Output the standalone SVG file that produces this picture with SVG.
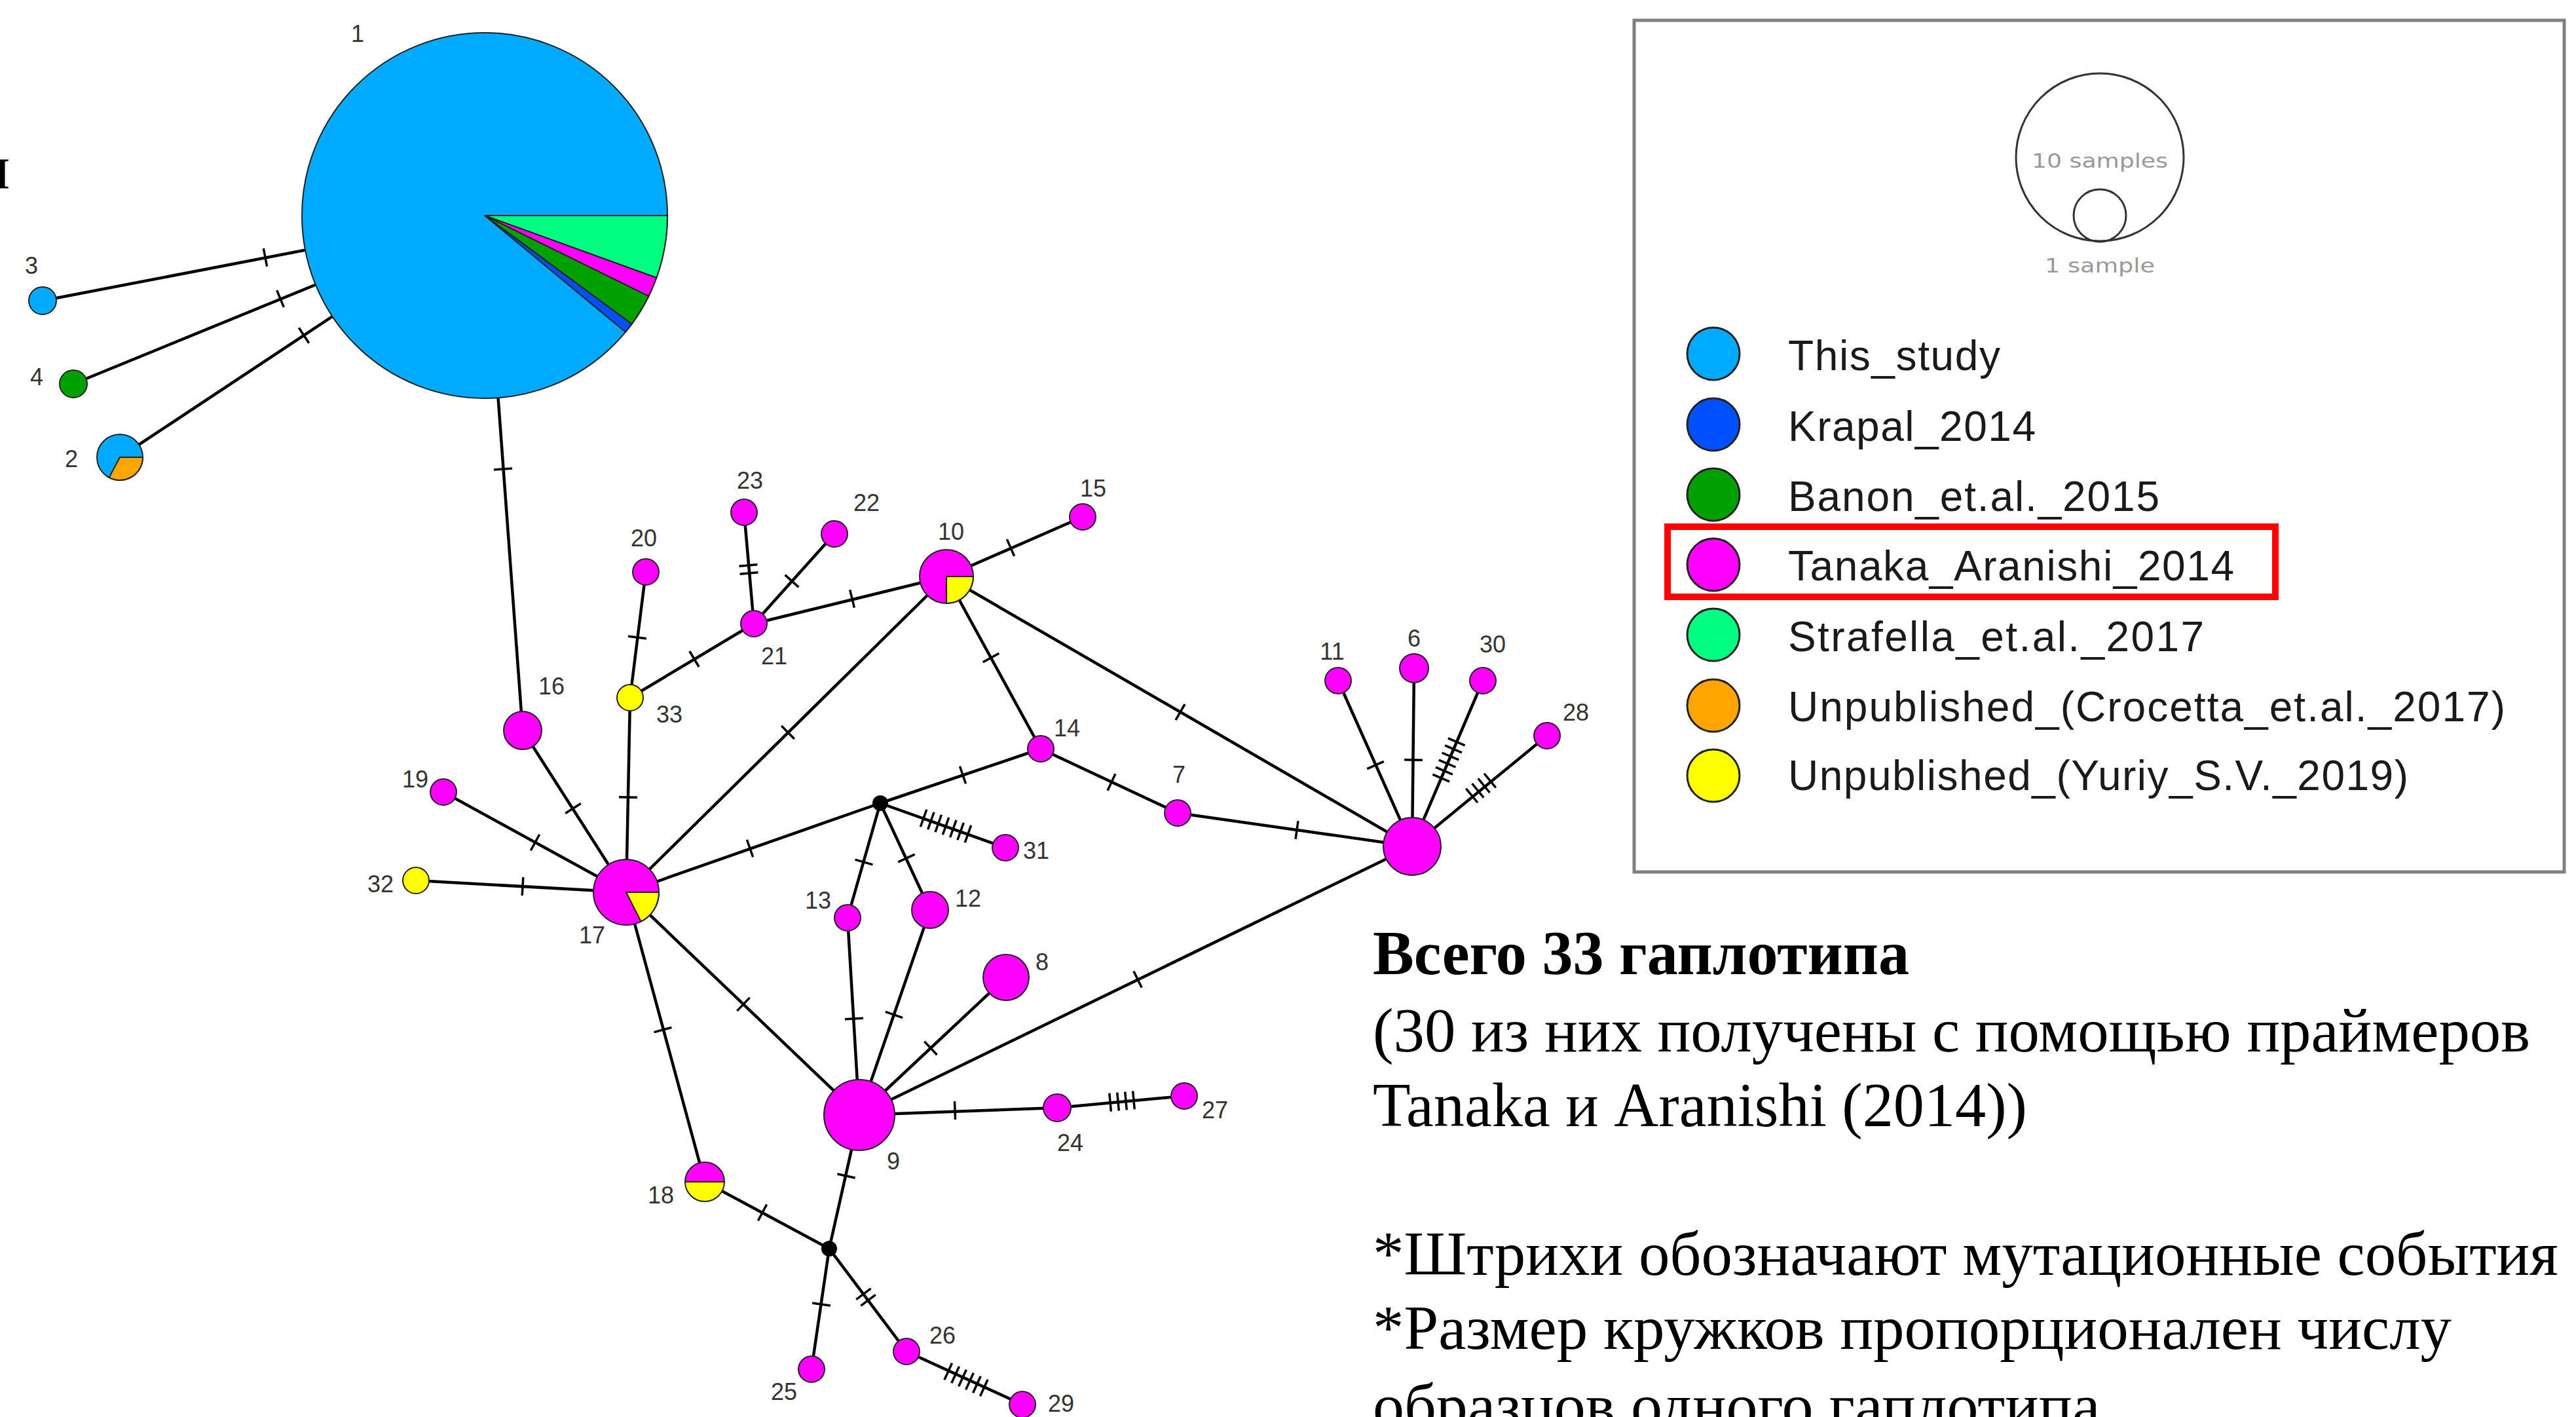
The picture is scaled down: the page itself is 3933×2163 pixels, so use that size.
<svg xmlns="http://www.w3.org/2000/svg" xmlns:xlink="http://www.w3.org/1999/xlink" width="3933" height="2163" viewBox="0 0 3933 2163">
<style>
.e{stroke:#000;stroke-width:4.5;fill:none}
.tk line{stroke:#000;stroke-width:3.5}
.n{stroke:#222;stroke-width:2}
.m{fill:#FF00FF}
.y{fill:#FFFF00}
.lb{font-family:"Liberation Sans",Arial,sans-serif;font-size:36px;fill:#333;text-anchor:middle}
.lg{font-family:"Liberation Sans",Arial,sans-serif;font-size:64px;fill:#1a1a1a}
.lc{stroke:#222;stroke-width:3}
.tx{font-family:"Liberation Serif","Times New Roman",serif;font-size:96px;fill:#000}
</style>
<defs>
<g id="t1" class="tk"><line x1="0" y1="-14" x2="0" y2="14"/></g>
<g id="t2" class="tk"><line x1="-6" y1="-14" x2="-6" y2="14"/><line x1="6" y1="-14" x2="6" y2="14"/></g>
<g id="t4" class="tk"><line x1="-18" y1="-14" x2="-18" y2="14"/><line x1="-6" y1="-14" x2="-6" y2="14"/><line x1="6" y1="-14" x2="6" y2="14"/><line x1="18" y1="-14" x2="18" y2="14"/></g>
<g id="t6" class="tk"><line x1="-30" y1="-14" x2="-30" y2="14"/><line x1="-18" y1="-14" x2="-18" y2="14"/><line x1="-6" y1="-14" x2="-6" y2="14"/><line x1="6" y1="-14" x2="6" y2="14"/><line x1="18" y1="-14" x2="18" y2="14"/><line x1="30" y1="-14" x2="30" y2="14"/></g>
<g id="t7" class="tk"><line x1="-36" y1="-14" x2="-36" y2="14"/><line x1="-24" y1="-14" x2="-24" y2="14"/><line x1="-12" y1="-14" x2="-12" y2="14"/><line x1="0" y1="-14" x2="0" y2="14"/><line x1="12" y1="-14" x2="12" y2="14"/><line x1="24" y1="-14" x2="24" y2="14"/><line x1="36" y1="-14" x2="36" y2="14"/></g>
</defs>
<rect width="3933" height="2163" fill="#fff"/>

<text class="tx" x="15" y="287" font-size="110" text-anchor="end">н</text>

<g id="connectors">
<line class="e" x1="740" y1="329" x2="65" y2="459"/><use href="#t1" transform="translate(405,393) rotate(-10.9)"/>
<line class="e" x1="740" y1="329" x2="112" y2="586"/><use href="#t1" transform="translate(428,456) rotate(-22.25)"/>
<line class="e" x1="740" y1="329" x2="183" y2="698"/><use href="#t1" transform="translate(464,512) rotate(-33.5)"/>
<line class="e" x1="740" y1="329" x2="798" y2="1115"/><use href="#t1" transform="translate(768,716) rotate(85.8)"/>
<line class="e" x1="798" y1="1115" x2="956" y2="1362"/><use href="#t1" transform="translate(875,1234) rotate(57.4)"/>
<line class="e" x1="677" y1="1209" x2="956" y2="1362"/><use href="#t1" transform="translate(817,1286) rotate(28.7)"/>
<line class="e" x1="635" y1="1344" x2="956" y2="1362"/><use href="#t1" transform="translate(798,1353) rotate(3.2)"/>
<line class="e" x1="962" y1="1065" x2="956" y2="1362"/><use href="#t1" transform="translate(959,1217) rotate(91.2)"/>
<line class="e" x1="986" y1="873" x2="962" y2="1065"/><use href="#t1" transform="translate(973,973) rotate(97.1)"/>
<line class="e" x1="962" y1="1065" x2="1151" y2="952"/><use href="#t1" transform="translate(1060,1006) rotate(-30.9)"/>
<line class="e" x1="1151" y1="952" x2="1136" y2="782"/><use href="#t2" transform="translate(1143,869) rotate(84.96)"/>
<line class="e" x1="1151" y1="952" x2="1274" y2="815"/><use href="#t1" transform="translate(1209,887) rotate(-48.1)"/>
<line class="e" x1="1151" y1="952" x2="1445" y2="880"/><use href="#t1" transform="translate(1301,914) rotate(-13.8)"/>
<line class="e" x1="1445" y1="880" x2="1653" y2="789"/><use href="#t1" transform="translate(1543,836) rotate(-23.6)"/>
<line class="e" x1="1445" y1="880" x2="956" y2="1362"/><use href="#t1" transform="translate(1203,1118) rotate(-44.6)"/>
<line class="e" x1="1445" y1="880" x2="1589" y2="1143"/><use href="#t1" transform="translate(1513,1004) rotate(61.3)"/>
<line class="e" x1="1445" y1="880" x2="2156" y2="1292"/><use href="#t1" transform="translate(1802,1087) rotate(30.1)"/>
<line class="e" x1="1589" y1="1143" x2="1344" y2="1226"/><use href="#t1" transform="translate(1470,1183) rotate(-18.7)"/>
<line class="e" x1="1589" y1="1143" x2="1798" y2="1241"/><use href="#t1" transform="translate(1697,1194) rotate(25.1)"/>
<line class="e" x1="1798" y1="1241" x2="2156" y2="1292"/><use href="#t1" transform="translate(1980,1267) rotate(8.1)"/>
<line class="e" x1="1344" y1="1226" x2="956" y2="1362"/><use href="#t1" transform="translate(1145,1295) rotate(-19.3)"/>
<line class="e" x1="1344" y1="1226" x2="1535" y2="1294"/><use href="#t7" transform="translate(1444,1261) rotate(19.6)"/>
<line class="e" x1="1344" y1="1226" x2="1294" y2="1401"/><use href="#t1" transform="translate(1319,1316) rotate(-74.05)"/>
<line class="e" x1="1344" y1="1226" x2="1420" y2="1389"/><use href="#t1" transform="translate(1384,1310) rotate(65)"/>
<line class="e" x1="1294" y1="1401" x2="1312" y2="1702"/><use href="#t1" transform="translate(1304,1555) rotate(86.6)"/>
<line class="e" x1="1420" y1="1389" x2="1312" y2="1702"/><use href="#t1" transform="translate(1365,1549) rotate(-70.96)"/>
<line class="e" x1="1536" y1="1492" x2="1312" y2="1702"/><use href="#t1" transform="translate(1421,1600) rotate(-43.2)"/>
<line class="e" x1="1312" y1="1702" x2="2156" y2="1292"/><use href="#t1" transform="translate(1737,1495) rotate(-25.9)"/>
<line class="e" x1="956" y1="1362" x2="1312" y2="1702"/><use href="#t1" transform="translate(1135,1533) rotate(43.7)"/>
<line class="e" x1="956" y1="1362" x2="1076" y2="1804"/><use href="#t1" transform="translate(1012,1572) rotate(74.8)"/>
<line class="e" x1="1312" y1="1702" x2="1614" y2="1691"/><use href="#t1" transform="translate(1458,1695) rotate(-2.1)"/>
<line class="e" x1="1614" y1="1691" x2="1808" y2="1673"/><use href="#t4" transform="translate(1713,1681) rotate(-5.3)"/>
<line class="e" x1="1312" y1="1702" x2="1266" y2="1906"/><use href="#t1" transform="translate(1292,1795) rotate(-77.3)"/>
<line class="e" x1="1076" y1="1804" x2="1266" y2="1906"/><use href="#t1" transform="translate(1164,1851) rotate(28.2)"/>
<line class="e" x1="1266" y1="1906" x2="1239" y2="2090"/><use href="#t1" transform="translate(1254,1991) rotate(-81.65)"/>
<line class="e" x1="1266" y1="1906" x2="1384" y2="2063"/><use href="#t2" transform="translate(1322,1980) rotate(53.1)"/>
<line class="e" x1="1384" y1="2063" x2="1561" y2="2144"/><use href="#t6" transform="translate(1475,2106) rotate(24.6)"/>
<line class="e" x1="2156" y1="1292" x2="2043" y2="1039"/><use href="#t1" transform="translate(2100,1168) rotate(65.9)"/>
<line class="e" x1="2156" y1="1292" x2="2159" y2="1020"/><use href="#t1" transform="translate(2158,1160) rotate(-89.4)"/>
<line class="e" x1="2156" y1="1292" x2="2264" y2="1039"/><use href="#t6" transform="translate(2212,1160) rotate(-66.9)"/>
<line class="e" x1="2156" y1="1292" x2="2362" y2="1123"/><use href="#t4" transform="translate(2261,1203) rotate(-39.4)"/>
</g>

<g id="node1">
<circle class="n" cx="740" cy="329" r="279" fill="#00AAFF"/>
<path class="n" d="M740,329 L1019,329 A279,279 0 0 1 1002.3,424 Z" fill="#00FF80"/>
<path class="n" d="M740,329 L1002.3,424 A279,279 0 0 1 990.3,452.2 Z" fill="#FF00FF"/>
<path class="n" d="M740,329 L990.3,452.2 A279,279 0 0 1 964.6,494.6 Z" fill="#00A000"/>
<path class="n" d="M740,329 L964.6,494.6 A279,279 0 0 1 955,506.8 Z" fill="#0050FF"/>
<text class="lb" x="546" y="64">1</text>
</g>
<g id="node2">
<circle class="n" cx="183" cy="698" r="35" fill="#00AAFF"/>
<path class="n" d="M183,698 L218,698 A35,35 0 0 1 166.6,728.9 Z" fill="#FFA500"/>
<text class="lb" x="109" y="713">2</text>
</g>
<g id="node3"><circle class="n" cx="65" cy="459" r="21" fill="#00AAFF"/><text class="lb" x="48" y="418">3</text></g>
<g id="node4"><circle class="n" cx="112" cy="586" r="21" fill="#00A000"/><text class="lb" x="56" y="588">4</text></g>
<g id="node5"><circle class="n m" cx="2156" cy="1292" r="44"/></g>
<g id="node6"><circle class="n m" cx="2159" cy="1020" r="22"/><text class="lb" x="2159" y="987">6</text></g>
<g id="node7"><circle class="n m" cx="1798" cy="1241" r="20"/><text class="lb" x="1800" y="1195">7</text></g>
<g id="node8"><circle class="n m" cx="1536" cy="1492" r="35"/><text class="lb" x="1591" y="1481">8</text></g>
<g id="node9"><circle class="n m" cx="1312" cy="1702" r="54"/><text class="lb" x="1364" y="1785">9</text></g>
<g id="node10">
<circle class="n m" cx="1445" cy="880" r="41"/>
<path class="n y" d="M1445,880 L1486,880 A41,41 0 0 1 1445,921 Z"/>
<text class="lb" x="1452" y="824">10</text>
</g>
<g id="node11"><circle class="n m" cx="2043" cy="1039" r="20"/><text class="lb" x="2034" y="1007">11</text></g>
<g id="node12"><circle class="n m" cx="1420" cy="1389" r="28"/><text class="lb" x="1478" y="1384">12</text></g>
<g id="node13"><circle class="n m" cx="1294" cy="1401" r="20"/><text class="lb" x="1249" y="1387">13</text></g>
<g id="node14"><circle class="n m" cx="1589" cy="1143" r="20"/><text class="lb" x="1629" y="1124">14</text></g>
<g id="node15"><circle class="n m" cx="1653" cy="789" r="20"/><text class="lb" x="1669" y="758">15</text></g>
<g id="node16"><circle class="n m" cx="798" cy="1115" r="29"/><text class="lb" x="842" y="1060">16</text></g>
<g id="node17">
<circle class="n m" cx="956" cy="1362" r="50"/>
<path class="n y" d="M956,1362 L1006,1362 A50,50 0 0 1 978.7,1406.6 Z"/>
<text class="lb" x="904" y="1440">17</text>
</g>
<g id="node18">
<path class="n m" d="M1046,1804 A30,30 0 0 1 1106,1804 Z"/>
<path class="n y" d="M1046,1804 A30,30 0 0 0 1106,1804 Z"/>
<text class="lb" x="1009" y="1837">18</text>
</g>
<g id="node19"><circle class="n m" cx="677" cy="1209" r="20"/><text class="lb" x="634" y="1202">19</text></g>
<g id="node20"><circle class="n m" cx="986" cy="873" r="20"/><text class="lb" x="983" y="834">20</text></g>
<g id="node21"><circle class="n m" cx="1151" cy="952" r="20"/><text class="lb" x="1182" y="1014">21</text></g>
<g id="node22"><circle class="n m" cx="1274" cy="815" r="20"/><text class="lb" x="1323" y="780">22</text></g>
<g id="node23"><circle class="n m" cx="1136" cy="782" r="20"/><text class="lb" x="1145" y="746">23</text></g>
<g id="node24"><circle class="n m" cx="1614" cy="1691" r="21"/><text class="lb" x="1634" y="1757">24</text></g>
<g id="node25"><circle class="n m" cx="1239" cy="2090" r="20"/><text class="lb" x="1197" y="2137">25</text></g>
<g id="node26"><circle class="n m" cx="1384" cy="2063" r="20"/><text class="lb" x="1439" y="2051">26</text></g>
<g id="node27"><circle class="n m" cx="1808" cy="1673" r="20"/><text class="lb" x="1855" y="1707">27</text></g>
<g id="node28"><circle class="n m" cx="2362" cy="1123" r="20"/><text class="lb" x="2406" y="1100">28</text></g>
<g id="node29"><circle class="n m" cx="1561" cy="2144" r="20"/><text class="lb" x="1620" y="2155">29</text></g>
<g id="node30"><circle class="n m" cx="2264" cy="1039" r="20"/><text class="lb" x="2279" y="996">30</text></g>
<g id="node31"><circle class="n m" cx="1535" cy="1294" r="20"/><text class="lb" x="1582" y="1311">31</text></g>
<g id="node32"><circle class="n y" cx="635" cy="1344" r="20"/><text class="lb" x="581" y="1362">32</text></g>
<g id="node33"><circle class="n y" cx="962" cy="1065" r="20"/><text class="lb" x="1022" y="1103">33</text></g>
<g id="junction1"><circle cx="1344" cy="1226" r="12" fill="#000"/></g>
<g id="junction2"><circle cx="1266" cy="1906" r="12" fill="#000"/></g>

<g id="legend">
<rect x="2495" y="31" width="1420" height="1300" fill="#fff" stroke="#808080" stroke-width="5"/>
<circle cx="3206" cy="240" r="128" fill="none" stroke="#333" stroke-width="3"/>
<circle cx="3206" cy="329" r="40" fill="none" stroke="#333" stroke-width="3"/>
<text x="3206" y="256" font-family="'DejaVu Sans',sans-serif" font-size="30" fill="#999" text-anchor="middle" textLength="208" lengthAdjust="spacingAndGlyphs">10 samples</text>
<text x="3206" y="416" font-family="'DejaVu Sans',sans-serif" font-size="30" fill="#999" text-anchor="middle" textLength="168" lengthAdjust="spacingAndGlyphs">1 sample</text>
<circle class="lc" cx="2616" cy="540" r="40" fill="#00AAFF"/>
<circle class="lc" cx="2616" cy="648" r="40" fill="#0050FF"/>
<circle class="lc" cx="2616" cy="755" r="40" fill="#00A000"/>
<circle class="lc" cx="2616" cy="862" r="40" fill="#FF00FF"/>
<circle class="lc" cx="2616" cy="969" r="40" fill="#00FF80"/>
<circle class="lc" cx="2616" cy="1077" r="40" fill="#FFA500"/>
<circle class="lc" cx="2616" cy="1184" r="40" fill="#FFFF00"/>
<text class="lg" x="2730" y="565" textLength="324" lengthAdjust="spacing">This_study</text>
<text class="lg" x="2730" y="673" textLength="378" lengthAdjust="spacing">Krapal_2014</text>
<text class="lg" x="2730" y="780" textLength="567" lengthAdjust="spacing">Banon_et.al._2015</text>
<text class="lg" x="2730" y="886" textLength="681" lengthAdjust="spacing">Tanaka_Aranishi_2014</text>
<text class="lg" x="2730" y="994" textLength="635" lengthAdjust="spacing">Strafella_et.al._2017</text>
<text class="lg" x="2730" y="1101" textLength="1095" lengthAdjust="spacing">Unpublished_(Crocetta_et.al._2017)</text>
<text class="lg" x="2730" y="1206" textLength="947" lengthAdjust="spacing">Unpublished_(Yuriy_S.V._2019)</text>
<rect x="2546" y="804" width="928" height="107" fill="none" stroke="#FF0000" stroke-width="10"/>
</g>

<g id="notes">
<text class="tx" x="2096" y="1487" font-weight="bold" textLength="819" lengthAdjust="spacingAndGlyphs">Всего 33 гаплотипа</text>
<text class="tx" x="2096" y="1605" textLength="1767" lengthAdjust="spacingAndGlyphs">(30 из них получены с помощью праймеров</text>
<text class="tx" x="2096" y="1719" textLength="999" lengthAdjust="spacingAndGlyphs">Tanaka и Aranishi (2014))</text>
<text class="tx" x="2096" y="1946" textLength="1810" lengthAdjust="spacingAndGlyphs">*Штрихи обозначают мутационные события</text>
<text class="tx" x="2096" y="2059" textLength="1647" lengthAdjust="spacingAndGlyphs">*Размер кружков пропорционален числу</text>
<text class="tx" x="2096" y="2178">образцов одного гаплотипа.</text>
</g>
</svg>
